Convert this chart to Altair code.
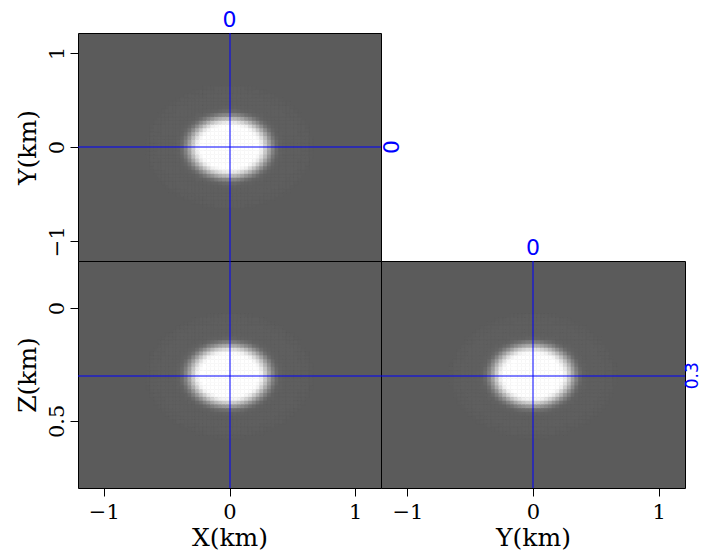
import numpy as np
import pandas as pd
import altair as alt

# ---- axis ranges and ticks (km) ----
X_RANGE = [-1.205, 1.205]
Y_RANGE = [-1.21, 1.21]
Z_RANGE = [-0.208, 0.797]
X_TICKS = [-1, 0, 1]
Y_TICKS = [-1, 0, 1]
Z_TICKS = [0, 0.5]

# ---- crosshair (slice) positions ----
SLICE_X = 0.0
SLICE_Y = 0.0
SLICE_Z = 0.3

# ---- blob: centre, semi-axes, radial brightness profile ----
BLOB_CENTER = [0.0, 0.0, 0.3]
BLOB_RADII = [0.37, 0.37, 0.155]
PROFILE_R = [0.0, 0.62, 0.70, 0.80, 0.90, 1.00, 1.08, 1.2, 1.5, 1.7, 1.8]
PROFILE_V = [1.0, 1.0, 0.92, 0.66, 0.36, 0.13, 0.05, 0.03, 0.025, 0.02, 0.0]

# ---- grid resolution ----
N_X, N_Y, N_Z = 80, 60, 60

BG = "#5b5b5b"
BLUE = "#0000ff"
SERIF = "DejaVu Serif"
SANS = "DejaVu Sans"


def field(h_rng, v_rng, nh, nv, h_idx, v_idx, fixed):
    he = np.linspace(h_rng[0], h_rng[1], nh + 1)
    ve = np.linspace(v_rng[0], v_rng[1], nv + 1)
    hc = 0.5 * (he[:-1] + he[1:])
    vc = 0.5 * (ve[:-1] + ve[1:])
    H, V = np.meshgrid(np.arange(nh), np.arange(nv), indexing="ij")
    coords = [None, None, None]
    coords[h_idx] = hc[H]
    coords[v_idx] = vc[V]
    k = 3 - h_idx - v_idx
    coords[k] = np.full(H.shape, fixed)
    r = np.sqrt(sum(((coords[i] - BLOB_CENTER[i]) / BLOB_RADII[i]) ** 2 for i in range(3)))
    val = np.interp(r, PROFILE_R, PROFILE_V)
    df = pd.DataFrame({
        "h": he[H.ravel()], "h2": he[H.ravel() + 1],
        "v": ve[V.ravel()], "v2": ve[V.ravel() + 1],
        "val": val.ravel(),
    })
    return df[df["val"] > 0.003]


color_scale = alt.Scale(domain=[0, 1], range=[BG, "#ffffff"], clamp=True)


def panel(df, h_rng, v_rng, v_rev, w, h, xaxis, yaxis, cross_h, cross_v,
          top_label, right_text, vx_off=0.0, hy_off=0.0, right_size=22, right_dx=1):
    xs = alt.Scale(domain=h_rng, nice=False, zero=False)
    ys = alt.Scale(domain=v_rng, nice=False, zero=False, reverse=v_rev)
    img = alt.Chart(df).mark_rect(strokeWidth=0.6).encode(
        x=alt.X("h:Q", scale=xs, axis=xaxis),
        x2="h2:Q",
        y=alt.Y("v:Q", scale=ys, axis=yaxis),
        y2="v2:Q",
        color=alt.Color("val:Q", scale=color_scale, legend=None),
        stroke=alt.Stroke("val:Q", scale=color_scale, legend=None),
    )
    vr = alt.Chart(pd.DataFrame({"p": [cross_h]})).mark_rule(
        color=BLUE, strokeWidth=1, xOffset=vx_off).encode(x=alt.X("p:Q", scale=xs))
    hr = alt.Chart(pd.DataFrame({"p": [cross_v]})).mark_rule(
        color=BLUE, strokeWidth=1, yOffset=hy_off).encode(y=alt.Y("p:Q", scale=ys))
    layers = [img, vr, hr]
    if top_label:
        layers.append(
            alt.Chart(pd.DataFrame({"p": [cross_h], "t": [top_label]})).mark_text(
                color=BLUE, font=SANS, fontSize=22, baseline="top", align="center"
            ).encode(x=alt.X("p:Q", scale=xs), y=alt.value(-23), text="t:N"))
    if right_text:
        layers.append(
            alt.Chart(pd.DataFrame({"p": [cross_v], "t": [right_text]})).mark_text(
                color=BLUE, font=SANS, fontSize=right_size, baseline="top", align="center",
                angle=270
            ).encode(x=alt.value(w + right_dx), y=alt.Y("p:Q", scale=ys), text="t:N"))
    return alt.layer(*layers).properties(width=w, height=h)


ax_common = dict(
    grid=False, domain=False, tickColor="black", tickSize=8, tickWidth=1,
    labelFont=SERIF, labelFontSize=21, labelColor="black",
    titleFont=SERIF, titleFontSize=25, titleFontWeight="normal", titleColor="black",
    format="~g",
)

x_axis_X = alt.Axis(values=X_TICKS, title="X(km)", labelPadding=5, titlePadding=3, **ax_common)
x_axis_Y = alt.Axis(values=Y_TICKS, title="Y(km)", labelPadding=5, titlePadding=3, **ax_common)
y_axis_Y = alt.Axis(values=Y_TICKS, title="Y(km)", labelAngle=-90, labelAlign="center",
                    labelBaseline="bottom", labelPadding=3, titlePadding=6, **ax_common)
y_axis_Z = alt.Axis(values=Z_TICKS, title="Z(km)", labelAngle=-90, labelAlign="center",
                    labelBaseline="bottom", labelPadding=3, titlePadding=6, **ax_common)

df_xy = field(X_RANGE, Y_RANGE, N_X, N_Y, 0, 1, SLICE_Z)
df_xz = field(X_RANGE, Z_RANGE, N_X, N_Z, 0, 2, SLICE_Y)
df_yz = field(Y_RANGE, Z_RANGE, N_X, N_Z, 1, 2, SLICE_X)

top = panel(df_xy, X_RANGE, Y_RANGE, False, 303, 228, None, y_axis_Y,
            SLICE_X, SLICE_Y, "0", "0", vx_off=0.5, right_size=22, right_dx=1)
bl = panel(df_xz, X_RANGE, Z_RANGE, True, 303, 227, x_axis_X, y_axis_Z,
           SLICE_X, SLICE_Z, None, None, vx_off=0.5, hy_off=0.26)
br = panel(df_yz, Y_RANGE, Z_RANGE, True, 304, 227, x_axis_Y, None,
           SLICE_Y, SLICE_Z, "0", "0.3", hy_off=0.26, right_size=17, right_dx=0)

chart = alt.vconcat(
    top,
    alt.hconcat(bl, br, spacing=0, bounds="flush"),
    spacing=0, bounds="flush",
).properties(
    padding={"left": 6, "top": 0, "right": -3, "bottom": 0}
).configure(
    background="white"
).configure_view(
    fill=BG, stroke="black", strokeWidth=1
)

chart.save("out.html", embed_options={"renderer": "svg", "actions": False})
